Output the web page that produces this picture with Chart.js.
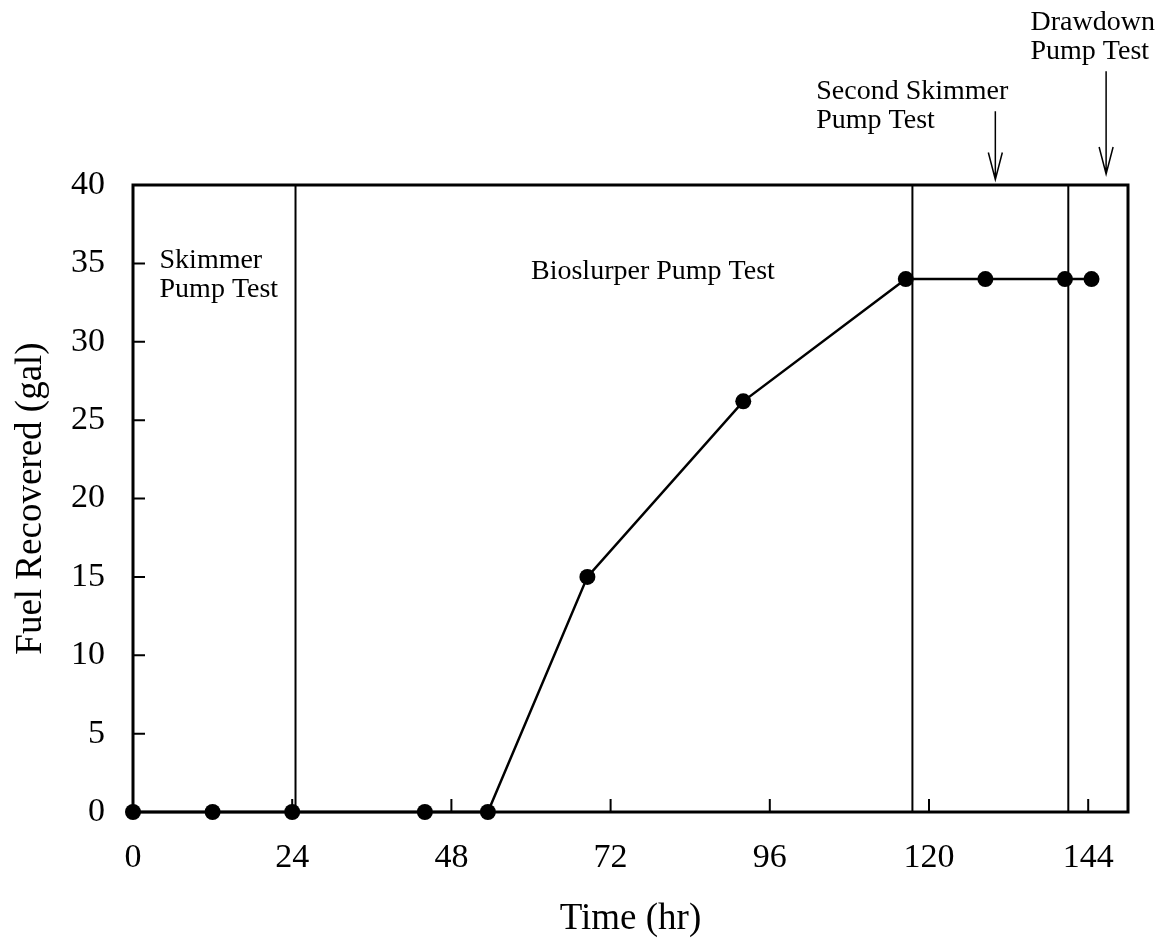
<!DOCTYPE html>
<html>
<head>
<meta charset="utf-8">
<script src="https://cdn.jsdelivr.net/npm/chart.js@4.4.1/dist/chart.umd.min.js"></script>
<style>
  html, body { margin: 0; padding: 0; background: #fff; }
  #wrap { width: 1161px; height: 945px; }
</style>
</head>
<body>
<div id="wrap"><canvas id="fuel-chart" width="1161" height="945"></canvas></div>
<script>
// Cumulative fuel recovered over the pump tests
const hours = [0, 12, 24, 44, 53.5, 68.5, 92, 116.5, 128.5, 140.5, 144.5];
const fuelGal = [0, 0, 0, 0, 0, 15, 26.2, 34, 34, 34, 34];
const xTicks = [0, 24, 48, 72, 96, 120, 144];
const yTicks = [0, 5, 10, 15, 20, 25, 30, 35, 40];
const phaseBoundaries = [24.5, 117.5, 141];

// phase names, anchored in data units (hr, gal)
const phaseLabels = [
    { x: 4, y: 34.7, lines: ['Skimmer', 'Pump Test'] },
    { x: 60, y: 34, lines: ['Bioslurper Pump Test'] },
    { x: 103, y: 45.5, lines: ['Second Skimmer', 'Pump Test'] },
    { x: 135.3, y: 49.9, lines: ['Drawdown', 'Pump Test'] },
];
const arrows = [
    { x: 130, from: 44.7, to: 40.35 },
    { x: 146.7, from: 47.25, to: 40.7 },
];

const SERIF = '"Liberation Serif", "Times New Roman", serif';

const framePlugin = {
    id: 'frame',
    beforeDatasetsDraw(chart) {
        const { ctx, chartArea: a, scales: { x, y } } = chart;
        ctx.save();
        ctx.strokeStyle = '#000';

        // phase boundaries
        ctx.lineWidth = 2;
        phaseBoundaries.forEach((h) => {
            const px = x.getPixelForValue(h);
            ctx.beginPath();
            ctx.moveTo(px, a.top);
            ctx.lineTo(px, a.bottom);
            ctx.stroke();
        });

        // ticks point inward
        ctx.lineWidth = 2;
        ctx.beginPath();
        xTicks.forEach((v) => {
            if (v === 0) return;
            const px = x.getPixelForValue(v);
            ctx.moveTo(px, a.bottom);
            ctx.lineTo(px, a.bottom - 13);
        });
        yTicks.forEach((v) => {
            if (v === 0 || v === 40) return;
            const py = y.getPixelForValue(v);
            ctx.moveTo(a.left, py);
            ctx.lineTo(a.left + 12, py);
        });
        ctx.stroke();

        // box
        ctx.lineWidth = 3;
        ctx.strokeRect(a.left, a.top, a.right - a.left, a.bottom - a.top);
        ctx.restore();
    },
    afterDraw(chart) {
        const { ctx, scales: { x, y } } = chart;
        ctx.save();
        ctx.fillStyle = '#000';
        ctx.strokeStyle = '#000';
        ctx.font = '28px ' + SERIF;
        ctx.textAlign = 'left';
        ctx.textBaseline = 'alphabetic';
        phaseLabels.forEach((lbl) => {
            const px = x.getPixelForValue(lbl.x);
            const py = y.getPixelForValue(lbl.y);
            lbl.lines.forEach((line, i) => ctx.fillText(line, px, py + i * 29));
        });

        ctx.lineWidth = 1.5;
        arrows.forEach((ar) => {
            const px = x.getPixelForValue(ar.x);
            const y0 = y.getPixelForValue(ar.from);
            const y1 = y.getPixelForValue(ar.to);
            ctx.beginPath();
            ctx.moveTo(px, y0);
            ctx.lineTo(px, y1);
            ctx.moveTo(px - 7, y1 - 27);
            ctx.lineTo(px, y1);
            ctx.lineTo(px + 7, y1 - 27);
            ctx.stroke();
        });
        ctx.restore();
    }
};

const ctx = document.getElementById('fuel-chart').getContext('2d');
new Chart(ctx, {
    type: 'scatter',
    data: {
        datasets: [{
            data: hours.map((h, i) => ({ x: h, y: fuelGal[i] })),
            showLine: true,
            borderColor: '#000',
            borderWidth: 2.5,
            pointRadius: 8,
            pointBackgroundColor: '#000',
            pointBorderWidth: 0,
            clip: false,
        }],
    },
    options: {
        animation: false,
        responsive: false,
        layout: { padding: { top: 185, right: 33, left: 0, bottom: 0 } },
        plugins: {
            legend: { display: false },
            tooltip: { enabled: false },
        },
        scales: {
            x: {
                type: 'linear',
                min: 0,
                max: 150,
                afterBuildTicks: (s) => { s.ticks = xTicks.map((v) => ({ value: v })); },
                afterFit: (s) => { s.height = 133; },
                grid: { display: false },
                border: { display: false },
                ticks: {
                    color: '#000',
                    font: { family: SERIF, size: 34 },
                    padding: 18,
                    maxRotation: 0,
                    autoSkip: false,
                },
                title: {
                    display: true,
                    text: 'Time (hr)',
                    color: '#000',
                    font: { family: SERIF, size: 37 },
                    padding: { top: 0, bottom: 4 },
                },
            },
            y: {
                min: 0,
                max: 40,
                afterBuildTicks: (s) => { s.ticks = yTicks.map((v) => ({ value: v })); },
                afterFit: (s) => { s.width = 133; },
                grid: { display: false },
                border: { display: false },
                ticks: {
                    color: '#000',
                    font: { family: SERIF, size: 34 },
                    padding: 20,
                },
                title: {
                    display: true,
                    text: 'Fuel Recovered (gal)',
                    color: '#000',
                    font: { family: SERIF, size: 37 },
                    padding: { top: 9, bottom: 0 },
                },
            },
        },
    },
    plugins: [framePlugin],
});
</script>
</body>
</html>
